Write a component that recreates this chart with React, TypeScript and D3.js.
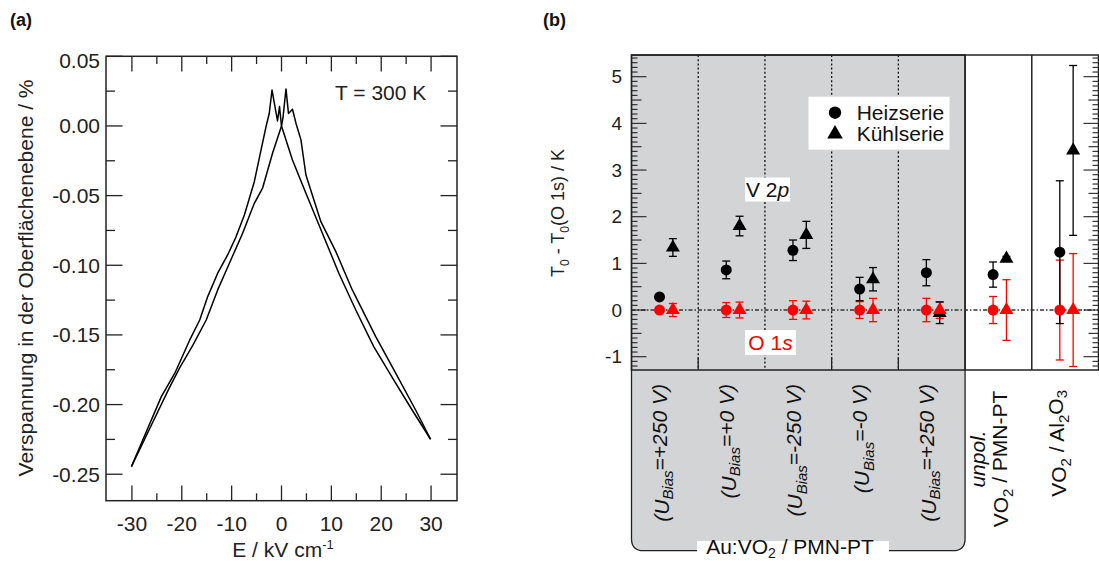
import React from 'react';
import * as d3 from 'd3';

const FONT = "'Liberation Sans', Arial, Helvetica, sans-serif";

// ---------- Panel (a): butterfly strain loop ----------
const upE = [-30.1, -24.1, -21.4, -18.4, -16.4, -14.8, -12.8, -10.8, -9.1, -7.45, -5.45, -4.1, -3.1, -2.45, -1.9, -0.8, -0.4, 0.0, 2.2, 4.9, 8.2, 11.5, 14.9, 18.5, 22.5, 26.2, 29.9];
const upS = [-0.2445, -0.1943, -0.1775, -0.1536, -0.1393, -0.1225, -0.1057, -0.0926, -0.0794, -0.0639, -0.04, -0.0172, -0.0005, 0.0091, 0.0258, 0.0036, 0.0139, 0.0, -0.0244, -0.0483, -0.077, -0.1057, -0.1321, -0.1584, -0.1823, -0.2039, -0.2249];
const downE = [29.9, 26.9, 22.9, 18.9, 14.2, 10.9, 7.9, 4.9, 3.9, 2.9, 2.2, 1.4, 0.9, 0.3, 0.0, -1.8, -3.8, -5.45, -7.8, -10.45, -12.8, -15.1, -17.8, -20.4, -22.5, -25.8, -30.1];
const downS = [-0.2249, -0.2039, -0.1775, -0.1512, -0.1177, -0.0902, -0.0687, -0.0352, -0.01, 0.002, 0.012, 0.009, 0.0265, 0.006, 0.0, -0.0196, -0.0447, -0.0555, -0.077, -0.0986, -0.1177, -0.1393, -0.1575, -0.1735, -0.188, -0.2125, -0.2445];
const xTicksA = [-30, -20, -10, 0, 10, 20, 30];
const xMinorA = [-25, -15, -5, 5, 15, 25];
const yTicksA = [0.05, 0, -0.05, -0.1, -0.15, -0.2, -0.25];
const yTickLabelsA = ['0.05', '0.00', '-0.05', '-0.10', '-0.15', '-0.20', '-0.25'];
const yMinorA = [0.025, -0.025, -0.075, -0.125, -0.175, -0.225];

// ---------- Panel (b): T0 differences ----------
const biasValues = ['+250', '+0', '-250', '-0', '+250'];
const heizV = [0.28, 0.86, 1.28, 0.45, 0.8, 0.76, 1.24];
const heizVErr = [0.05, 0.19, 0.22, 0.25, 0.28, 0.27, 1.53];
const kuehlV = [1.34, 1.8, 1.61, 0.66, -0.06, 1.1, 3.42];
const kuehlVErr = [0.19, 0.21, 0.29, 0.25, 0.23, 0.05, 1.82];
const heizO = [0, 0, 0, 0, 0, 0, 0];
const heizOErr = [0.05, 0.16, 0.2, 0.18, 0.25, 0.29, 1.07];
const kuehlO = [0, 0, 0, 0, 0, 0, 0];
const kuehlOErr = [0.14, 0.17, 0.19, 0.25, 0.18, 0.65, 1.21];
const yTicksB = [-1, 0, 1, 2, 3, 4, 5];

const RED = '#ff0000';
const GREY = '#d3d4d6';
const AX = '#222';

function App() {
  // panel a scales
  const xA = d3.scaleLinear().domain([-35.2, 35.2]).range([106, 457]);
  const yA = d3.scaleLinear().domain([-0.269, 0.05]).range([500.7, 56.3]);
  const line = d3.line<[number, number]>().x((d) => xA(d[0])).y((d) => yA(d[1]));
  const upPath = line(upE.map((e, i) => [e, upS[i]] as [number, number])) || '';
  const downPath = line(downE.map((e, i) => [e, downS[i]] as [number, number])) || '';

  // panel b scales
  const xB = d3.scaleLinear().domain([0, 7]).range([631.5, 1098.5]);
  const yB = d3.scaleLinear().domain([-1, 5]).range([356.7, 76.7]);
  const top = 55;
  const bottom = 370;
  const circOff = 0.42;
  const triOff = 0.62;
  const circ = d3.symbol().type(d3.symbolCircle).size(95)() || '';
  const tri = d3.symbol().type(d3.symbolTriangle).size(85)() || '';
  const circL = d3.symbol().type(d3.symbolCircle).size(120)() || '';
  const triL = d3.symbol().type(d3.symbolTriangle).size(105)() || '';

  const minorB: number[] = [];
  for (let k = -12; k <= 54; k++) minorB.push(k);

  const errBars = (vals: number[], errs: number[], off: number, color: string) =>
    vals.map((v, i) => {
      const x = xB(i + off);
      const y1 = yB(v + errs[i]);
      const y2 = yB(v - errs[i]);
      return (
        <g key={`e${off}${color}${i}`} stroke={color} strokeWidth={1.3}>
          <line x1={x} x2={x} y1={y1} y2={y2} />
          <line x1={x - 4} x2={x + 4} y1={y1} y2={y1} />
          <line x1={x - 4} x2={x + 4} y1={y2} y2={y2} />
        </g>
      );
    });
  const markers = (vals: number[], off: number, shape: string, color: string) =>
    vals.map((v, i) => (
      <path key={`m${off}${color}${i}`} d={shape} fill={color} transform={`translate(${xB(i + off)},${yB(v)})`} />
    ));

  const gx0 = xB(0);
  const gx1 = xB(5);
  const gb = 550.7;
  const r = 12;
  const greyPath = `M${gx0},${top} L${gx1},${top} L${gx1},${gb - r} Q${gx1},${gb} ${gx1 - r},${gb} L${gx0 + r},${gb} Q${gx0},${gb} ${gx0},${gb - r} Z`;

  return (
    <svg width={1099} height={561} style={{ position: 'absolute', left: 0, top: 0, background: '#fff' }} fontFamily={FONT}>
      {/* ================= Panel (a) ================= */}
      <text x={10} y={26} fontSize={18} fontWeight="bold" fill="#111">(a)</text>
      <rect x={106} y={56.3} width={351} height={444.4} fill="none" stroke={AX} strokeWidth={1.5} />
      {xTicksA.map((t) => (
        <g key={`xa${t}`} stroke={AX} strokeWidth={1.3}>
          <line x1={xA(t)} x2={xA(t)} y1={500.7} y2={485.5} />
          <line x1={xA(t)} x2={xA(t)} y1={56.3} y2={71.5} />
        </g>
      ))}
      {xMinorA.map((t) => (
        <g key={`xam${t}`} stroke={AX} strokeWidth={1.3}>
          <line x1={xA(t)} x2={xA(t)} y1={500.7} y2={493.3} />
          <line x1={xA(t)} x2={xA(t)} y1={56.3} y2={64} />
        </g>
      ))}
      {yTicksA.map((t) => (
        <g key={`ya${t}`} stroke={AX} strokeWidth={1.3}>
          <line x1={106} x2={122.5} y1={yA(t)} y2={yA(t)} />
          <line x1={457} x2={440.5} y1={yA(t)} y2={yA(t)} />
        </g>
      ))}
      {yMinorA.map((t) => (
        <g key={`yam${t}`} stroke={AX} strokeWidth={1.3}>
          <line x1={106} x2={115} y1={yA(t)} y2={yA(t)} />
          <line x1={457} x2={448} y1={yA(t)} y2={yA(t)} />
        </g>
      ))}
      {xTicksA.map((t) => (
        <text key={`xal${t}`} x={xA(t)} y={531} fontSize={21} textAnchor="middle" fill="#222">{t}</text>
      ))}
      {yTicksA.map((t, i) => (
        <text key={`yal${t}`} x={100} y={yA(t) + (i === 0 ? 4 : 0)} dy="0.35em" fontSize={21} textAnchor="end" fill="#222">{yTickLabelsA[i]}</text>
      ))}
      <text x={283} y={557} fontSize={21} textAnchor="middle" fill="#222">
        E / kV cm<tspan dy={-8} fontSize={13}>-1</tspan>
      </text>
      <text transform="translate(33,278) rotate(-90)" fontSize={21} textAnchor="middle" fill="#222">Verspannung in der Oberflächenebene / %</text>
      <text x={335} y={100} fontSize={21} fill="#222">T = 300 K</text>
      <path d={upPath} fill="none" stroke="#000" strokeWidth={1.5} strokeLinejoin="round" />
      <path d={downPath} fill="none" stroke="#000" strokeWidth={1.5} strokeLinejoin="round" />

      {/* ================= Panel (b) ================= */}
      <text x={543} y={26} fontSize={18} fontWeight="bold" fill="#111">(b)</text>
      <path d={greyPath} fill={GREY} stroke={AX} strokeWidth={1.3} />
      {[1, 2, 3, 4].map((c) => (
        <line key={`dv${c}`} x1={xB(c)} x2={xB(c)} y1={top} y2={bottom} stroke="#111" strokeWidth={1.3} strokeDasharray="2,2.2" />
      ))}
      {[1, 3, 4].map((c) => (
        <line key={`bt${c}`} x1={xB(c)} x2={xB(c)} y1={bottom} y2={bottom - 13} stroke={AX} strokeWidth={1.3} />
      ))}
      {[5, 6].map((c) => (
        <line key={`sv${c}`} x1={xB(c)} x2={xB(c)} y1={top} y2={bottom} stroke={AX} strokeWidth={1.5} />
      ))}
      <rect x={xB(0)} y={top} width={xB(7) - xB(0)} height={bottom - top} fill="none" stroke={AX} strokeWidth={1.5} />
      <line x1={xB(0)} x2={xB(7)} y1={yB(0)} y2={yB(0)} stroke="#333" strokeWidth={1.5} strokeDasharray="4,2,1.5,2" />
      {minorB.map((k) => {
        const len = k % 10 === 0 ? 15 : k % 5 === 0 ? 10 : 6;
        const y = yB(k / 10);
        return (
          <g key={`tb${k}`} stroke={AX} strokeWidth={1.1}>
            <line x1={xB(0)} x2={xB(0) + len} y1={y} y2={y} />
            <line x1={xB(7)} x2={xB(7) - len} y1={y} y2={y} />
          </g>
        );
      })}
      {yTicksB.map((t) => (
        <text key={`ybl${t}`} x={622} y={yB(t)} dy="0.35em" fontSize={19} textAnchor="end" fill="#222">{t}</text>
      ))}
      <text transform="translate(564,213) rotate(-90)" fontSize={18} textAnchor="middle" fill="#222">
        T<tspan dy={5} fontSize={12}>0</tspan><tspan dy={-5}> - T</tspan><tspan dy={5} fontSize={12}>0</tspan><tspan dy={-5}>(O 1s) / K</tspan>
      </text>

      <rect x={745} y={177.5} width={45} height={24} fill="#fff" />
      <text x={767.5} y={197} fontSize={21} textAnchor="middle" fill="#111">V 2<tspan fontStyle="italic">p</tspan></text>
      <rect x={745} y={330} width={51} height={25} fill="#fff" />
      <text x={770.5} y={350} fontSize={21} textAnchor="middle" fill={RED}>O 1<tspan fontStyle="italic">s</tspan></text>

      <rect x={808.5} y={96.7} width={141} height={53} fill="#fff" />
      <path d={circL} fill="#000" transform="translate(835,112.7)" />
      <path d={triL} fill="#000" transform="translate(835,134)" />
      <text x={856.7} y={119.5} fontSize={21} fill="#111">Heizserie</text>
      <text x={856.7} y={141} fontSize={21} fill="#111">Kühlserie</text>

      {errBars(heizO, heizOErr, circOff, RED)}
      {errBars(kuehlO, kuehlOErr, triOff, RED)}
      {errBars(heizV, heizVErr, circOff, '#000')}
      {errBars(kuehlV, kuehlVErr, triOff, '#000')}
      {markers(heizV, circOff, circ, '#000')}
      {markers(kuehlV, triOff, tri, '#000')}
      {markers(heizO, circOff, circ, RED)}
      {markers(kuehlO, triOff, tri, RED)}

      {biasValues.map((b, i) => (
        <text key={`cl${i}`} transform={`translate(${xB(i + 0.45)},384) rotate(-90)`} dy="0.35em" fontSize={21} fontStyle="italic" textAnchor="end" fill="#111">
          (U<tspan dy="0.3em" fontSize={15}>Bias</tspan><tspan dy="-0.3em">={b} V)</tspan>
        </text>
      ))}
      <text transform={`translate(${xB(5) + 13},459) rotate(-90)`} dy="0.35em" fontSize={21} fontStyle="italic" textAnchor="middle" fill="#111">unpol.</text>
      <text transform={`translate(${xB(5) + 36},459) rotate(-90)`} dy="0.35em" fontSize={21} textAnchor="middle" fill="#111">
        VO<tspan dy="0.3em" fontSize={15}>2</tspan><tspan dy="-0.3em"> / PMN-PT</tspan>
      </text>
      <text transform={`translate(${xB(6) + 27},390) rotate(-90)`} dy="0.35em" fontSize={21} textAnchor="end" fill="#111">
        VO<tspan dy="0.3em" fontSize={15}>2</tspan><tspan dy="-0.3em"> / Al</tspan><tspan dy="0.3em" fontSize={15}>2</tspan><tspan dy="-0.3em">O</tspan><tspan dy="0.3em" fontSize={15}>3</tspan>
      </text>
      <rect x={697} y={541} width={192} height={20} fill="#fff" />
      <text x={790} y={554} fontSize={21} textAnchor="middle" fill="#111">
        Au:VO<tspan dy={4} fontSize={14}>2</tspan><tspan dy={-4}> / PMN-PT</tspan>
      </text>
    </svg>
  );
}

export default App;
